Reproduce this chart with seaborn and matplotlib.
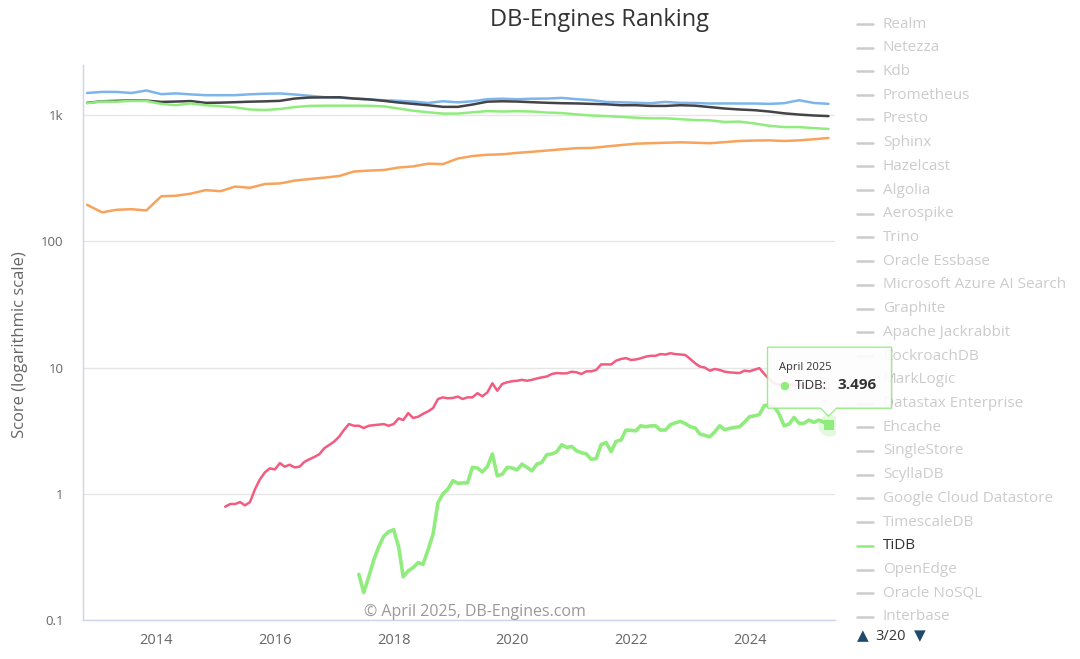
import matplotlib
matplotlib.use("Agg")
import matplotlib.pyplot as plt
import matplotlib.dates as mdates
from matplotlib.lines import Line2D
from matplotlib.patches import Polygon, Rectangle
from matplotlib.transforms import IdentityTransform
import pandas as pd
import seaborn as sns

# ---- data ----
# four big series, sampled every 3 months, Nov 2012 .. Apr 2025
quarter_dates = pd.date_range("2012-11-01", periods=51, freq="3MS")
blue_scores = [1500, 1530, 1530, 1500, 1570, 1468, 1490, 1462, 1441, 1441,
               1441, 1465, 1480, 1487, 1460, 1425, 1390, 1378, 1360, 1335,
               1315, 1300, 1283, 1250, 1290, 1265, 1290, 1340, 1352, 1338,
               1352, 1355, 1372, 1340, 1318, 1275, 1265, 1255, 1245, 1275,
               1252, 1250, 1238, 1240, 1238, 1238, 1230, 1245, 1315, 1250,
               1231]
black_scores = [1253, 1290, 1300, 1310, 1305, 1275, 1283, 1295, 1253, 1258,
                1268, 1280, 1288, 1300, 1355, 1380, 1385, 1388, 1355, 1335,
                1300, 1260, 1230, 1200, 1165, 1165, 1215, 1280, 1290, 1283,
                1268, 1255, 1245, 1240, 1230, 1220, 1200, 1200, 1185, 1185,
                1200, 1190, 1160, 1130, 1110, 1096, 1070, 1035, 1012, 995,
                984]
green_scores = [1245, 1285, 1280, 1300, 1295, 1230, 1200, 1240, 1200, 1180,
                1155, 1110, 1100, 1120, 1160, 1185, 1190, 1190, 1190, 1188,
                1175, 1130, 1085, 1055, 1030, 1030, 1055, 1078, 1070, 1076,
                1070, 1050, 1040, 1015, 995, 985, 970, 955, 945, 945,
                930, 915, 910, 885, 890, 860, 825, 805, 805, 790,
                778]
orange_scores = [195, 170, 178, 180, 176, 228, 230, 239, 255, 250,
                 272, 266, 285, 288, 303, 312, 320, 330, 358, 364,
                 368, 385, 393, 413, 410, 454, 475, 486, 490, 503,
                 513, 525, 537, 548, 550, 565, 580, 595, 600, 605,
                 610, 605, 600, 612, 625, 630, 632, 625, 632, 645,
                 660]

# pink series, monthly from Mar 2015
pink_dates = pd.date_range("2015-03-01", periods=123, freq="MS")
pink_scores = [0.79, 0.83, 0.83, 0.86, 0.81, 0.86, 1.09, 1.30, 1.48, 1.59,
               1.56, 1.75, 1.64, 1.70, 1.62, 1.64, 1.79, 1.88, 1.96, 2.06,
               2.30, 2.44, 2.60, 2.85, 3.20, 3.57, 3.46, 3.46, 3.32, 3.46,
               3.50, 3.53, 3.57, 3.46, 3.57, 3.96, 3.84, 4.36, 3.99, 4.08,
               4.30, 4.50, 4.78, 5.64, 5.81, 5.71, 5.75, 5.89, 5.64, 5.81,
               5.81, 6.27, 5.92, 6.36, 7.51, 6.56, 7.43, 7.65, 7.80, 7.87,
               8.0, 7.87, 8.0, 8.2, 8.37, 8.5, 8.9, 9.06, 9.0, 9.0,
               9.28, 9.17, 8.9, 9.34, 9.34, 9.58, 10.6, 10.6, 10.6, 11.35,
               11.7, 11.9, 11.5, 11.6, 11.85, 12.2, 12.4, 12.4, 12.8, 12.7,
               13.0, 12.8, 12.7, 12.6, 11.7, 10.8, 10.2, 10.0, 9.46, 9.75,
               9.58, 9.28, 9.17, 9.1, 9.06, 9.46, 9.34, 9.64, 9.9, 8.9,
               8.1, 7.5, 7.3, 7.6, 7.4, 7.2, 7.3, 7.1, 7.0, 7.2,
               7.0, 6.9, 6.8]

# TiDB, monthly from Jun 2017
tidb_dates = pd.date_range("2017-06-01", periods=96, freq="MS")
tidb_scores = [0.23, 0.165, 0.22, 0.30, 0.38, 0.46, 0.50, 0.52, 0.38, 0.22,
               0.245, 0.26, 0.285, 0.276, 0.36, 0.48, 0.85, 1.0, 1.09, 1.27,
               1.21, 1.22, 1.22, 1.62, 1.6, 1.49, 1.64, 2.07, 1.39, 1.43,
               1.62, 1.60, 1.55, 1.72, 1.62, 1.52, 1.72, 1.77, 2.04, 2.07,
               2.15, 2.45, 2.33, 2.37, 2.19, 2.12, 2.07, 1.88, 1.9, 2.45,
               2.55, 2.16, 2.6, 2.67, 3.2, 3.18, 3.16, 3.46, 3.4, 3.45,
               3.46, 3.2, 3.2, 3.53, 3.65, 3.75, 3.6, 3.4, 3.32, 2.98,
               2.9, 2.83, 3.1, 3.46, 3.22, 3.3, 3.36, 3.4, 3.7, 4.08,
               4.15, 4.24, 5.0, 5.08, 4.9, 4.29, 3.46, 3.57, 4.03, 3.62,
               3.62, 3.84, 3.68, 3.84, 3.70, 3.496]

legend_names = ["Realm", "Netezza", "Kdb", "Prometheus", "Presto", "Sphinx",
                "Hazelcast", "Algolia", "Aerospike", "Trino", "Oracle Essbase",
                "Microsoft Azure AI Search", "Graphite", "Apache Jackrabbit",
                "CockroachDB", "MarkLogic", "Datastax Enterprise", "Ehcache",
                "SingleStore", "ScyllaDB", "Google Cloud Datastore",
                "TimescaleDB", "TiDB", "OpenEdge", "Oracle NoSQL", "Interbase"]
visible_names = ["TiDB"]

y_ticks = [0.1, 1, 10, 100, 1000]
y_tick_labels = ["0.1", "1", "10", "100", "1k"]

BLUE, BLACK, GREEN, ORANGE, PINK = "#7cb5ec", "#434348", "#90ed7d", "#f7a35c", "#f15c80"

# ---- figure ----
sns.set_theme(style="white")
plt.rcParams["font.family"] = ["Open Sans", "DejaVu Sans"]

W, H = 1080, 659
fig = plt.figure(figsize=(W / 100, H / 100), dpi=100)
ax = fig.add_axes([83 / W, 1 - 620 / H, (835 - 83) / W, (620 - 65) / H])


def fx(px):
    return px / W


def fy(py):
    return 1 - py / H


series = [
    (quarter_dates, blue_scores, BLUE, 1.8),
    (quarter_dates, black_scores, BLACK, 1.8),
    (quarter_dates, green_scores, GREEN, 1.8),
    (quarter_dates, orange_scores, ORANGE, 1.8),
    (pink_dates, pink_scores, PINK, 1.8),
    (tidb_dates, tidb_scores, GREEN, 2.6),
]
for dates, scores, color, lw in series:
    df = pd.DataFrame({"date": dates, "score": scores})
    sns.lineplot(data=df, x="date", y="score", color=color, linewidth=lw,
                 ax=ax, legend=False, estimator=None)

# hovered point
last_date, last_val = tidb_dates[-1], tidb_scores[-1]
ax.scatter([last_date], [last_val], s=260, color=GREEN, alpha=0.25,
           linewidths=0, zorder=5)
ax.scatter([last_date], [last_val], s=60, marker="s", color=GREEN,
           linewidths=0, zorder=6)

ax.set_yscale("log")
ax.set_ylim(0.1, 2500)
ax.set_xlim(pd.Timestamp("2012-10-07"), pd.Timestamp("2025-06-10"))
ax.set_yticks(y_ticks)
ax.set_yticklabels(y_tick_labels)
ax.yaxis.set_minor_locator(matplotlib.ticker.NullLocator())
ax.xaxis.set_major_locator(mdates.YearLocator(2))
ax.xaxis.set_major_formatter(mdates.DateFormatter("%Y"))
ax.set_xlabel("")
ax.set_ylabel("")

ax.grid(axis="y", color="#e6e6e6", linewidth=1)
ax.grid(axis="x", visible=False)
for side in ["top", "right"]:
    ax.spines[side].set_visible(False)
for side in ["left", "bottom"]:
    ax.spines[side].set_color("#ccd6eb")
    ax.spines[side].set_linewidth(1)
ax.tick_params(axis="y", length=0, pad=14, labelsize=9.5, labelcolor="#666666")
ax.tick_params(axis="x", length=6, width=1, color="#ccd6eb", pad=3,
               labelsize=10.5, labelcolor="#666666", direction="out")

# texts
fig.text(fx(600), fy(20), "DB-Engines Ranking", ha="center", va="center",
         fontsize=17, color="#333333")
fig.text(fx(20), fy(345), "Score (logarithmic scale)", rotation=90,
         ha="center", va="center", fontsize=12, color="#666666")
fig.text(fx(475), fy(612), "\u00a9 April 2025, DB-Engines.com", ha="center",
         va="center", fontsize=11.5, color="#999999")

# legend (one page of a paged legend)
for i, name in enumerate(legend_names):
    y = 24 + i * 23.72
    on = name in visible_names
    fig.add_artist(Line2D([fx(857), fx(873)], [fy(y), fy(y)],
                          color=GREEN if on else "#cccccc", linewidth=1.8))
    fig.text(fx(883), fy(y), name, ha="left", va="center", fontsize=11,
             color="#333333" if on else "#cccccc")
fig.add_artist(Rectangle((fx(850), fy(630)), fx(230), fy(621) - fy(630),
                         facecolor="white", edgecolor="none", zorder=3))
fig.text(fx(857), fy(636), "\u25b2", ha="left", va="center", fontsize=11,
         color="#1f4a6e", family="DejaVu Sans", zorder=4)
fig.text(fx(875), fy(636), "3/20", ha="left", va="center", fontsize=10.5,
         color="#333333", zorder=4)
fig.text(fx(914), fy(636), "\u25bc", ha="left", va="center", fontsize=11,
         color="#1f4a6e", family="DejaVu Sans", zorder=4)

# tooltip anchored to the hovered point
px, py = ax.transData.transform((mdates.date2num(last_date), last_val))
left, right, bottom, top = px - 61, px + 63, py + 17, py + 78
shadow = Polygon([(left + 1, top - 1), (right + 1, top - 1), (right + 1, bottom - 1),
                  (left + 1, bottom - 1)], closed=True, transform=IdentityTransform(),
                 facecolor="#000000", alpha=0.06, edgecolor="none", zorder=9)
fig.add_artist(shadow)
tip = Polygon([(left, top), (right, top), (right, bottom), (px + 8, bottom),
               (px, py + 9), (px - 8, bottom), (left, bottom)], closed=True,
              transform=IdentityTransform(), facecolor="white", alpha=0.9,
              edgecolor=GREEN, linewidth=1, zorder=10)
fig.add_artist(tip)
fig.text(left + 11, top - 20, "April 2025", transform=IdentityTransform(),
         ha="left", va="center", fontsize=8, color="#333333", zorder=11)
fig.text(left + 12, top - 38, "\u25cf", transform=IdentityTransform(),
         ha="left", va="center", fontsize=8, color=GREEN,
         family="DejaVu Sans", zorder=11)
fig.text(left + 27, top - 38, "TiDB:", transform=IdentityTransform(),
         ha="left", va="center", fontsize=9.5, color="#333333", zorder=11)
fig.text(left + 70, top - 38, "3.496", transform=IdentityTransform(),
         ha="left", va="center", fontsize=11, fontweight="bold",
         color="#333333", zorder=11)

fig.savefig("out.png", dpi=100)
